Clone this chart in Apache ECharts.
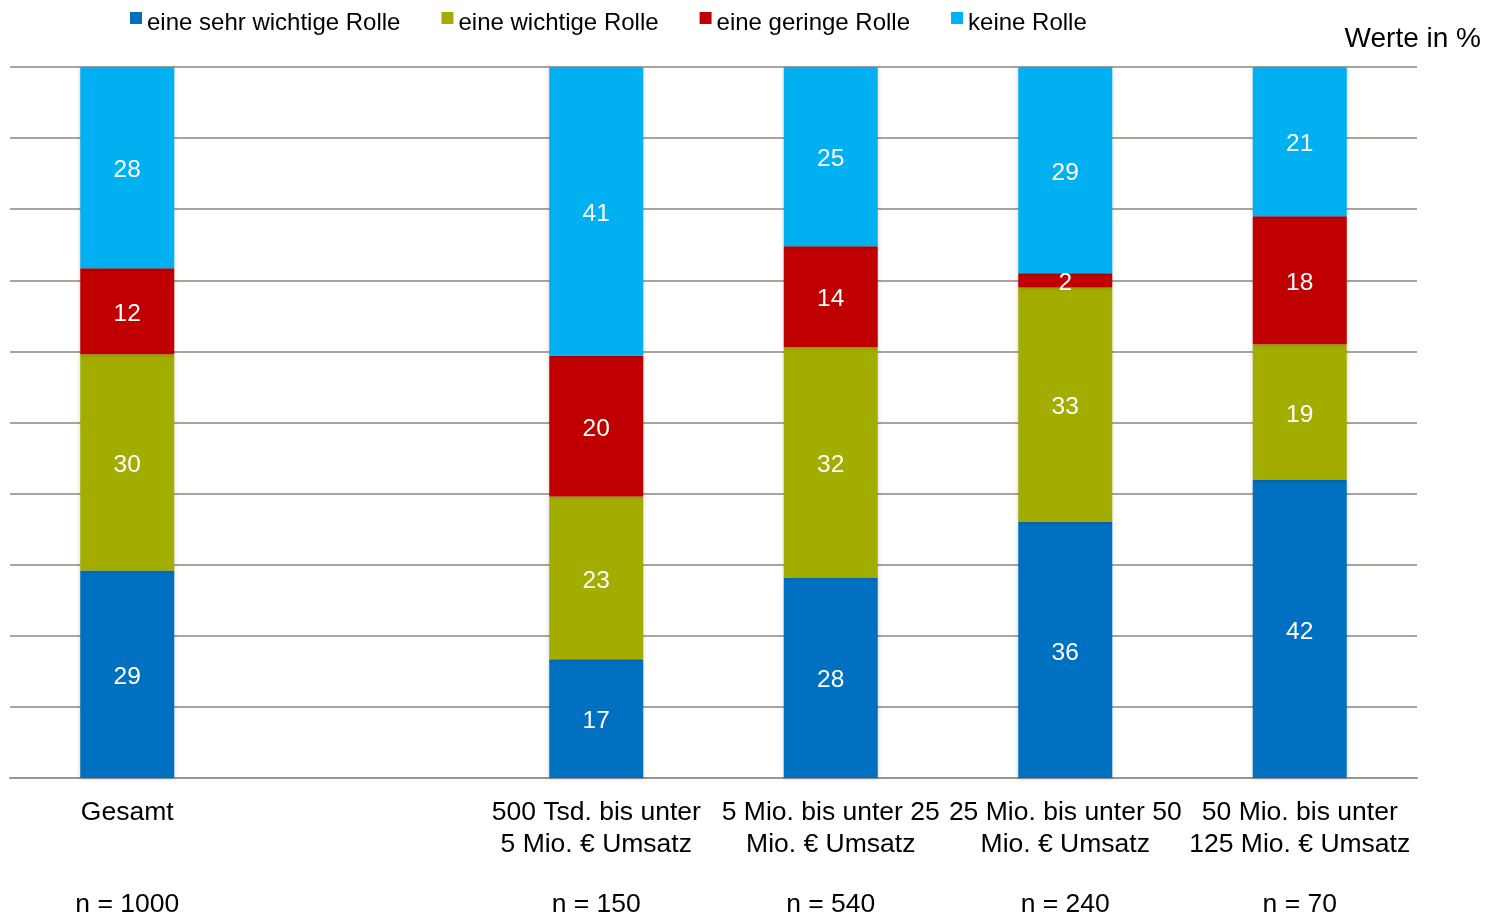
<!DOCTYPE html>
<html>
<head>
<meta charset="utf-8">
<script src="https://cdn.jsdelivr.net/npm/echarts@6/dist/echarts.min.js"></script>
<style>html,body{margin:0;padding:0;background:#fff}#c{width:1488px;height:918px}</style>
</head>
<body>
<div id="c"></div>
<script>
const categories = ['Gesamt', '', '500 Tsd. bis unter\n5 Mio. € Umsatz', '5 Mio. bis unter 25\nMio. € Umsatz', '25 Mio. bis unter 50\nMio. € Umsatz', '50 Mio. bis unter\n125 Mio. € Umsatz'];
const nLabels = ['n = 1000', '', 'n = 150', 'n = 540', 'n = 240', 'n = 70'];
const seriesNames = ['eine sehr wichtige Rolle', 'eine wichtige Rolle', 'eine geringe Rolle', 'keine Rolle'];
const sehrWichtig = [29.2, null, 16.7, 28.2, 36.0, 41.9];
const wichtig = [30.4, null, 22.9, 32.4, 33.0, 19.1];
const gering = [12.1, null, 19.8, 14.2, 2.0, 18.0];
const keine = [28.3, null, 40.7, 25.2, 29.0, 21.0];
const colors = ['#0070C0', '#A2AD00', '#C00000', '#00B0F0'];
const yTicks = { min: 0, max: 100, interval: 10 };

const FONT = '"Liberation Sans", Arial, sans-serif';
const chart = echarts.init(document.getElementById('c'), null, { renderer: 'canvas' });
const values = [sehrWichtig, wichtig, gering, keine];
chart.setOption({
  animation: false,
  textStyle: { fontFamily: FONT },
  title: {
    text: 'Werte in %', right: 2, top: 20,
    textStyle: { fontSize: 28, fontWeight: 'normal', color: '#000', fontFamily: FONT }
  },
  legend: {
    left: 130, top: 11, padding: 0, itemWidth: 12, itemHeight: 12, itemGap: 41,
    icon: 'rect',
    formatter: name => '{t|' + name + '}',
    textStyle: {
      fontSize: 24, color: '#000', fontFamily: FONT,
      rich: { t: { fontSize: 24, color: '#000', fontFamily: FONT, padding: [10, 0, 0, 0] } }
    },
    data: seriesNames
  },
  grid: { left: 10, right: 71, top: 67, bottom: 138 },
  xAxis: [{
    type: 'category', data: categories, position: 'bottom',
    axisLine: { lineStyle: { color: '#9a9590', width: 2 } },
    axisTick: { show: false },
    axisLabel: { interval: 0, fontSize: 26.5, color: '#000', margin: 19, lineHeight: 32, fontFamily: FONT }
  }, {
    type: 'category', data: nLabels, position: 'bottom', offset: 113,
    axisLine: { show: false }, axisTick: { show: false },
    axisLabel: { interval: 0, fontSize: 26.5, color: '#000', margin: 0, fontFamily: FONT }
  }],
  yAxis: {
    type: 'value', min: yTicks.min, max: yTicks.max, interval: yTicks.interval,
    axisLabel: { show: false }, axisLine: { show: false }, axisTick: { show: false },
    splitLine: { lineStyle: { color: '#aba39d', width: 2 } }
  },
  series: values.map((arr, i) => ({
    name: seriesNames[i], type: 'bar', stack: 'total', barWidth: 94,
    data: arr,
    itemStyle: { color: colors[i], shadowColor: 'rgba(0,0,0,0.18)', shadowBlur: 4, shadowOffsetY: 1 },
    label: {
      show: true, position: 'inside', color: '#fff', fontSize: 24.5, fontFamily: FONT,
      offset: [0, 3],
      formatter: p => Math.round(p.value)
    }
  }))
});
</script>
</body>
</html>
